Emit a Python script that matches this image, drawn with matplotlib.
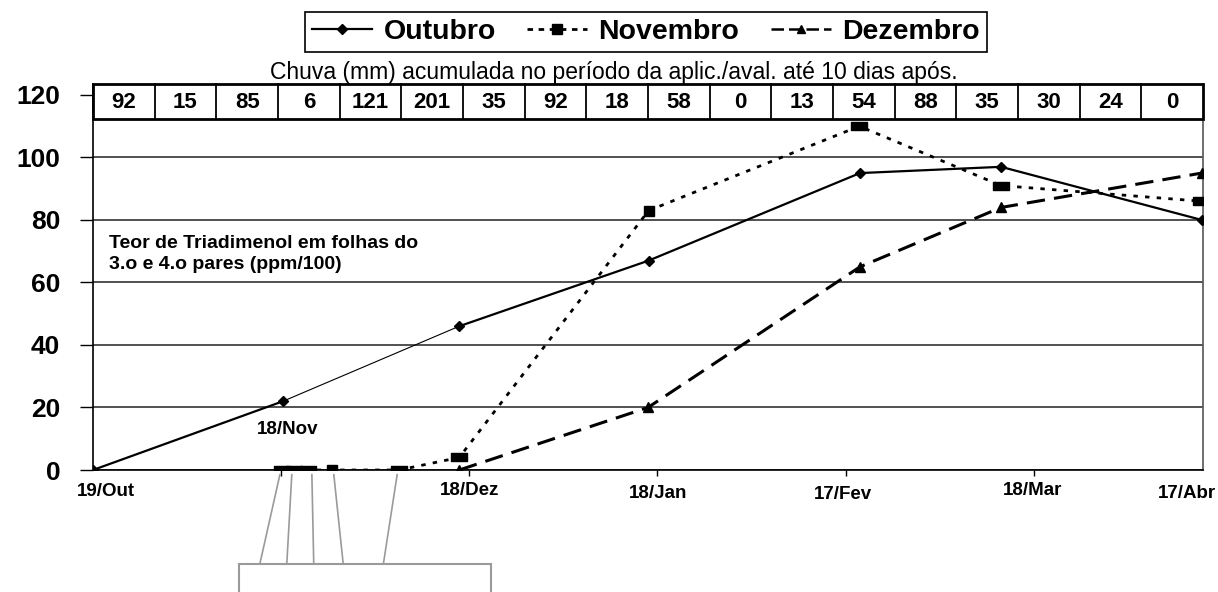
"""Teor de Triadimenol em folhas (ppm/100) por data de aplicação, com a chuva acumulada
no período de cada aplicação/avaliação mostrada numa faixa acima do gráfico."""
import matplotlib
matplotlib.use("Agg")
import matplotlib.pyplot as plt
import matplotlib.transforms as mtransforms
from matplotlib.lines import Line2D
from matplotlib.patches import Rectangle
from matplotlib.path import Path

plt.rcParams["font.family"] = ["Liberation Sans", "DejaVu Sans"]

# x = dias após 19/Out
OUT_X = [0, 30.3, 58.4, 88.6, 122.3, 144.8, 176.8]
OUT_Y = [0, 22, 46, 67, 95, 97, 80]
NOV_X = [30.1, 32.0, 34.3, 38.1, 48.8, 58.4, 88.6, 122.2, 144.8, 176.7]
NOV_Y = [0, 0, 0, 0, 0, 4, 83, 110, 91, 86]
DEZ_X = [58.4, 88.5, 122.3, 144.8, 176.8]
DEZ_Y = [0, 20, 65, 84, 95]
CHUVA = [92, 15, 85, 6, 121, 201, 35, 92, 18, 58, 0, 13, 54, 88, 35, 30, 24, 0]
DATE_LABELS = ["19/Out", "18/Nov", "18/Dez", "18/Jan", "17/Fev", "18/Mar", "17/Abr"]
SERIES = ["Outubro", "Novembro", "Dezembro"]

# layout only
DATE_LABEL_XY = [(2.1, -7.0), (31.1, 12.8), (60.1, -6.7), (90.1, -7.4),
                 (119.6, -7.7), (149.8, -6.7), (174.5, -7.4)]
NOV_WIDE = [True, True, True, False, True, True, False, True, True, True]
LEADERS = [(29.8, 26.6), (31.7, 30.9), (34.9, 35.2), (38.4, 39.9), (48.5, 46.3)]

W, H = 1218, 592
fig = plt.figure(figsize=(W / 100, H / 100), dpi=100)
ax = fig.add_axes([93 / W, 122 / H, 1110 / W, (470 - 84) / H])
ax.set_xlim(0, 177)
ax.set_ylim(0, 123.5)

wide = Path([(-1, -0.5), (1, -0.5), (1, 0.5), (-1, 0.5), (-1, -0.5)], closed=True)

# Outubro: the second segment is drawn thin in the original
ax.plot(OUT_X[:2], OUT_Y[:2], color="k", lw=1.6, zorder=4)
ax.plot(OUT_X[1:3], OUT_Y[1:3], color="k", lw=0.8, zorder=4)
ax.plot(OUT_X[2:], OUT_Y[2:], color="k", lw=1.6, zorder=4)
ax.plot(OUT_X, OUT_Y, ls="none", marker="D", ms=5.5, color="k", zorder=5)

ax.plot(NOV_X, NOV_Y, color="k", lw=2.0, ls=(0, (1.6, 2.6)), zorder=4)
for x, y, w in zip(NOV_X, NOV_Y, NOV_WIDE):
    if w:
        ax.plot(x, y, marker=wide, ms=11.5, color="k", ls="none", zorder=5)
    else:
        ax.plot(x, y, marker="s", ms=6.5, color="k", ls="none", zorder=5)

ax.plot(DEZ_X, DEZ_Y, color="k", lw=2.2, ls=(0, (6, 3)), marker="^", ms=6.5, zorder=4)

ax.set_yticks(range(0, 121, 20))
ax.yaxis.grid(True, color="#333333", lw=1.2)
ax.set_axisbelow(True)
ax.tick_params(axis="y", length=9.5, width=1.0, pad=14, labelsize=19)
for lab in ax.get_yticklabels():
    lab.set_fontweight("bold")
ax.set_xticks([30, 60, 90, 120, 150])
ax.set_xticklabels([])
ax.tick_params(axis="x", length=4, width=1.0)
ax.spines["top"].set_visible(False)
ax.spines["right"].set_color("#555555")
for s in ["left", "bottom", "right"]:
    ax.spines[s].set_linewidth(1.2)

for lab, (x, y) in zip(DATE_LABELS, DATE_LABEL_XY):
    ax.text(x, y, lab, ha="center", va="center", fontsize=13.5, fontweight="bold",
            clip_on=False)

# chuva table strip
trans = mtransforms.blended_transform_factory(ax.transAxes, ax.transData)
y0, y1 = 112.2, 123.5
n = len(CHUVA)
ax.add_patch(Rectangle((0, y0), 1, y1 - y0, transform=trans, facecolor="white",
                       edgecolor="k", lw=2.0, zorder=6, clip_on=False))
for i, v in enumerate(CHUVA):
    if i > 0:
        ax.plot([i / n, i / n], [y0, y1], transform=trans, color="k", lw=1.3,
                zorder=7, clip_on=False)
    ax.text((i + 0.5) / n, (y0 + y1) / 2 - 0.3, str(v), transform=trans, ha="center",
            va="center", fontsize=16, fontweight="bold",
            family=["Liberation Sans Narrow", "Liberation Sans"], zorder=8)

ax.text(2.6, 75.3, "Teor de Triadimenol em folhas do\n3.o e 4.o pares (ppm/100)",
        ha="left", va="top", fontsize=14, fontweight="bold", linespacing=1.3)

# empty callout box below the axis with leader lines
for xs, xe in LEADERS:
    ax.plot([xs, xe], [-1.5, -30.1], color="#9a9a9a", lw=1.2, clip_on=False, zorder=3)
ax.add_patch(Rectangle((23.3, -42), 40.2, 11.9, facecolor="none", edgecolor="#9a9a9a",
                       lw=1.5, clip_on=False))

fig.text(614 / W, 1 - 73 / H,
         "Chuva (mm) acumulada no período da aplic./aval. até 10 dias após.",
         ha="center", va="center", fontsize=16.5)

handles = [
    Line2D([], [], color="k", lw=1.6, marker="D", ms=5),
    Line2D([], [], color="k", lw=2.0, ls=(0, (2, 2)), marker="s", ms=7),
    Line2D([], [], color="k", lw=1.8, ls=(0, (5, 2)), marker="^", ms=6),
]
leg = fig.legend(handles, SERIES, loc="upper center", bbox_to_anchor=(646 / W, 1 - 12 / H),
                 ncol=3, frameon=True, fancybox=False, edgecolor="k", framealpha=1,
                 prop=dict(weight="bold", size=20.5), handlelength=2.1, columnspacing=1.1,
                 handletextpad=0.4, borderpad=0.25, borderaxespad=0)
leg.get_frame().set_linewidth(1.2)

fig.savefig("out.png", dpi=100)
